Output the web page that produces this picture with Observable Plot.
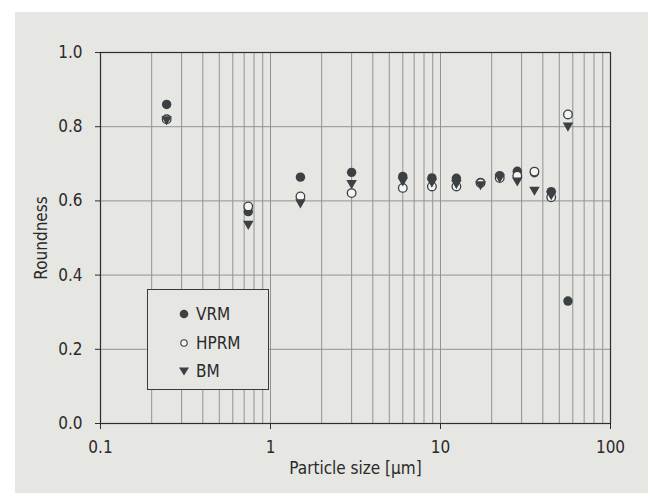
<!DOCTYPE html>
<html>
<head>
<meta charset="utf-8">
<script src="https://cdn.jsdelivr.net/npm/d3@7"></script>
<script src="https://cdn.jsdelivr.net/npm/@observablehq/plot@0.6"></script>
<style>
  html, body { margin: 0; padding: 0; background: #ffffff; }
  #wrap { position: relative; width: 656px; height: 493px; overflow: hidden; }
  #panel { position: absolute; left: 15px; top: 12px; width: 633px; height: 490px; background: #e6e6e3; }
  #chart { position: absolute; left: 0; top: 0; }
  #legend { position: absolute; left: 147px; top: 289px; width: 122px; height: 101px;
            border: 1px solid #3a3a3a; background: #e6e6e3; box-sizing: border-box;
            font-family: "Liberation Sans Narrow", "DejaVu Sans Condensed", sans-serif; font-stretch: condensed;
            font-size: 17px; color: #2a2a2a; }
  .row { position: absolute; left: 29px; height: 20px; display: flex; align-items: center; }
  .row svg { width: 14px; height: 14px; margin-right: 5px; }
  #chart svg text { font-stretch: condensed; }
</style>
</head>
<body>
<div id="wrap">
  <div id="panel"></div>
  <div id="chart"></div>
  <div id="legend"></div>
</div>
<script>
// Data
const sizes = [0.245, 0.74, 1.5, 3.0, 6.0, 8.9, 12.4, 17.2, 22.3, 28.3, 35.7, 44.8, 56.2];
const vrm   = [0.86, 0.571, 0.664, 0.677, 0.666, 0.662, 0.661, 0.650, 0.668, 0.680, 0.676, 0.625, 0.33];
const hprm  = [0.82, 0.585, 0.612, 0.621, 0.635, 0.639, 0.639, 0.648, 0.662, 0.668, 0.679, 0.610, 0.833];
const bm    = [0.82, 0.538, 0.596, 0.648, 0.655, 0.652, 0.648, 0.645, 0.664, 0.655, 0.630, 0.618, 0.803];
const seriesNames = ["VRM", "HPRM", "BM"];
const xTicks = [0.1, 1, 10, 100];
const yTicks = [0, 0.2, 0.4, 0.6, 0.8, 1.0];
const xGrid = [0.2,0.3,0.4,0.5,0.6,0.7,0.8,0.9,1,2,3,4,5,6,7,8,9,10,20,30,40,50,60,70,80,90];
const yGrid = [0.2, 0.4, 0.6, 0.8];

const rows = (vals) => sizes.map((s, i) => ({size: s, value: vals[i]}));
const dark = "#3b4043";
const font = "'Liberation Sans Narrow', 'DejaVu Sans Condensed', sans-serif";

const chart = Plot.plot({
  width: 656,
  height: 493,
  marginLeft: 100,
  marginRight: 46,
  marginTop: 52,
  marginBottom: 70,
  style: {background: "transparent", fontFamily: font, fontSize: "17px", color: "#2a2a2a"},
  x: {type: "log", domain: [0.1, 100]},
  y: {domain: [0, 1]},
  marks: [
    Plot.ruleX(xGrid, {stroke: "#939393", strokeWidth: 1}),
    Plot.ruleY(yGrid, {stroke: "#939393", strokeWidth: 1}),
    Plot.frame({stroke: "#2e2e2e", strokeWidth: 1.2}),
    Plot.axisX({ticks: xTicks, tickFormat: d => String(d), tickSize: 6, tickPadding: 11,
      label: "Particle size [µm]", labelAnchor: "center", labelArrow: "none", labelOffset: 50,
      stroke: "#2e2e2e"}),
    Plot.axisY({ticks: yTicks, tickFormat: d3.format(".1f"), tickSize: 5, tickPadding: 13,
      label: "Roundness", labelAnchor: "center", labelArrow: "none", labelOffset: 66,
      stroke: "#2e2e2e"}),
    Plot.dot(rows(vrm), {x: "size", y: "value", r: 4.7, fill: dark, stroke: "none"}),
    Plot.dot(rows(hprm), {x: "size", y: "value", r: 4.3, fill: "#f4f4f2", stroke: dark, strokeWidth: 1.3}),
    Plot.dot(rows(bm), {x: "size", y: "value", symbol: "triangle", rotate: 180, r: 3.9, fill: dark, stroke: "none"})
  ]
});
document.getElementById("chart").append(chart);

// Legend
const legend = document.getElementById("legend");
const symbols = {
  VRM: `<svg viewBox="-7 -7 14 14"><circle r="4.3" fill="${dark}"/></svg>`,
  HPRM: `<svg viewBox="-7 -7 14 14"><circle r="3.2" fill="#f4f4f2" stroke="${dark}" stroke-width="1.1"/></svg>`,
  BM: `<svg viewBox="-7 -7 14 14"><path d="M-5,-3.5L5,-3.5L0,4.5Z" fill="${dark}"/></svg>`
};
const tops = [14, 43, 71];
seriesNames.forEach((name, i) => {
  const r = document.createElement("div");
  r.className = "row";
  r.style.top = tops[i] + "px";
  r.innerHTML = symbols[name] + `<span>${name}</span>`;
  legend.append(r);
});
</script>
</body>
</html>
